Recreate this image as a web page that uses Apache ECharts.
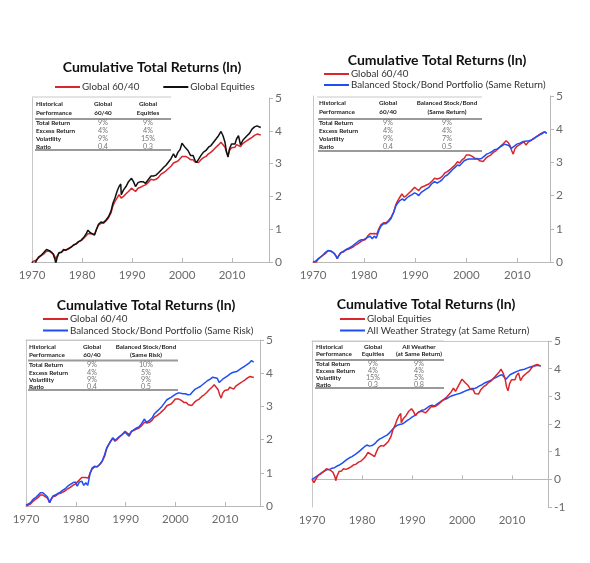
<!DOCTYPE html>
<html><head><meta charset="utf-8">
<script src="https://cdn.jsdelivr.net/npm/echarts@6/dist/echarts.min.js"></script>
<style>
html,body{margin:0;padding:0;background:#fff;}
#wrap{position:relative;width:590px;height:563px;}
.p{position:absolute;}
</style></head><body>
<div id="wrap">
<div id="c1" class="p" style="left:0;top:0;width:295px;height:282px"></div>
<div id="c2" class="p" style="left:295px;top:0;width:295px;height:282px"></div>
<div id="c3" class="p" style="left:0;top:282px;width:295px;height:281px"></div>
<div id="c4" class="p" style="left:295px;top:282px;width:295px;height:281px"></div>
</div>
<script>
// ---------------- DATA ----------------
const TITLE = 'Cumulative Total Returns (ln)';
const X_TICKS = [1970, 1980, 1990, 2000, 2010];

// Global Equities
const GE_YEARS = [1970.0,1970.4,1970.9,1971.3,1971.8,1972.3,1972.9,1973.3,1973.7,1974.2,1974.6,1974.75,1975.0,1975.4,1975.9,1976.3,1976.8,1977.3,1977.8,1978.3,1978.8,1979.3,1979.8,1980.2,1980.5,1980.9,1981.2,1981.6,1982.0,1982.5,1982.9,1983.3,1983.8,1984.3,1984.8,1985.3,1985.8,1986.2,1986.6,1987.0,1987.4,1987.75,1987.85,1988.3,1988.8,1989.3,1989.9,1990.3,1990.7,1991.2,1991.7,1992.2,1992.7,1993.2,1993.8,1994.3,1994.8,1995.3,1995.8,1996.3,1996.8,1997.3,1997.8,1998.3,1998.7,1999.2,1999.6,2000.0,2000.3,2000.7,2001.2,2001.7,2002.2,2002.6,2002.9,2003.3,2003.8,2004.3,2004.8,2005.3,2005.8,2006.3,2006.8,2007.3,2007.8,2008.2,2008.6,2008.9,2009.2,2009.5,2009.9,2010.3,2010.6,2010.9,2011.3,2011.7,2012.2,2012.6,2013.0,2013.5,2014.0,2014.5,2015.0,2015.4,2015.75];
const GE_VALUES = [0.00,-0.12,0.05,0.15,0.20,0.28,0.38,0.36,0.33,0.25,0.08,-0.05,0.12,0.28,0.30,0.38,0.36,0.40,0.45,0.52,0.55,0.62,0.66,0.68,0.78,0.88,0.97,0.90,0.88,0.82,1.00,1.15,1.22,1.20,1.28,1.38,1.55,1.80,1.95,2.15,2.30,2.38,2.05,2.20,2.30,2.45,2.55,2.45,2.30,2.42,2.45,2.45,2.40,2.50,2.62,2.62,2.65,2.72,2.80,2.88,2.95,3.05,3.15,3.30,3.18,3.35,3.42,3.62,3.60,3.48,3.40,3.25,3.25,3.10,3.03,3.08,3.25,3.35,3.40,3.50,3.55,3.65,3.75,3.85,3.98,3.85,3.65,3.35,3.20,3.45,3.60,3.65,3.60,3.75,3.85,3.57,3.72,3.75,3.85,3.92,4.05,4.12,4.15,4.18,4.10];

// Global 60/40
const G6040_YEARS = [1970.0,1970.4,1970.9,1971.4,1971.9,1972.4,1972.9,1973.4,1973.8,1974.3,1974.75,1975.0,1975.4,1975.9,1976.4,1976.9,1977.4,1977.9,1978.4,1978.9,1979.4,1979.9,1980.3,1980.7,1981.2,1981.6,1982.0,1982.5,1982.9,1983.3,1983.8,1984.3,1984.8,1985.3,1985.8,1986.2,1986.6,1987.0,1987.4,1987.75,1987.85,1988.3,1988.8,1989.3,1989.9,1990.3,1990.7,1991.2,1991.7,1992.2,1992.7,1993.2,1993.8,1994.3,1994.8,1995.3,1995.8,1996.3,1996.8,1997.3,1997.8,1998.3,1998.7,1999.2,1999.6,2000.0,2000.3,2000.7,2001.2,2001.7,2002.2,2002.6,2002.9,2003.3,2003.8,2004.3,2004.8,2005.3,2005.8,2006.3,2006.8,2007.3,2007.8,2008.2,2008.6,2008.9,2009.2,2009.5,2009.9,2010.3,2010.6,2010.9,2011.3,2011.7,2012.2,2012.6,2013.0,2013.5,2014.0,2014.5,2015.0,2015.4,2015.75];
const G6040_VALUES = [0.00,-0.05,0.06,0.14,0.20,0.25,0.33,0.33,0.30,0.24,0.10,0.18,0.28,0.30,0.36,0.38,0.42,0.46,0.52,0.56,0.62,0.66,0.68,0.78,0.86,0.85,0.86,0.84,1.00,1.12,1.18,1.18,1.25,1.35,1.50,1.72,1.85,1.95,2.05,2.08,1.95,2.00,2.08,2.15,2.25,2.20,2.15,2.25,2.28,2.32,2.35,2.42,2.52,2.50,2.52,2.58,2.68,2.72,2.78,2.85,2.92,3.02,2.98,3.08,3.12,3.22,3.25,3.22,3.18,3.12,3.12,3.05,3.00,3.03,3.12,3.18,3.22,3.30,3.35,3.42,3.50,3.57,3.65,3.60,3.50,3.35,3.25,3.40,3.48,3.52,3.50,3.58,3.62,3.52,3.62,3.65,3.70,3.75,3.80,3.86,3.90,3.92,3.87];

// Balanced Stock/Bond Portfolio (Same Return)
const BSR_YEARS = [1970.0,1970.5,1971.0,1971.5,1972.0,1972.5,1973.0,1973.5,1974.0,1974.5,1974.75,1975.0,1975.5,1976.0,1976.5,1977.0,1977.5,1978.0,1978.5,1979.0,1979.5,1980.0,1980.3,1980.7,1981.2,1981.6,1982.0,1982.4,1982.9,1983.3,1983.8,1984.3,1984.8,1985.3,1985.8,1986.2,1986.6,1987.0,1987.5,1987.9,1988.3,1988.8,1989.3,1989.9,1990.3,1990.7,1991.2,1991.7,1992.2,1992.7,1993.2,1993.8,1994.3,1994.8,1995.3,1995.8,1996.3,1996.8,1997.3,1997.8,1998.3,1998.7,1999.2,1999.6,2000.0,2000.5,2001.0,2001.5,2002.0,2002.5,2003.0,2003.5,2004.0,2004.5,2005.0,2005.5,2006.0,2006.5,2007.0,2007.5,2007.9,2008.4,2008.8,2009.1,2009.5,2009.9,2010.5,2011.0,2011.5,2011.8,2012.3,2012.8,2013.3,2013.8,2014.3,2014.8,2015.3,2015.75];
const BSR_VALUES = [0.00,0.02,0.10,0.15,0.22,0.30,0.35,0.33,0.28,0.18,0.10,0.18,0.28,0.33,0.38,0.42,0.46,0.52,0.58,0.64,0.67,0.68,0.62,0.74,0.78,0.70,0.78,0.72,0.95,1.08,1.15,1.15,1.22,1.32,1.50,1.68,1.78,1.85,1.90,1.85,1.92,1.98,2.02,2.08,2.05,2.00,2.10,2.15,2.20,2.25,2.35,2.42,2.38,2.42,2.48,2.58,2.62,2.70,2.78,2.85,2.92,2.90,2.98,3.05,3.08,3.10,3.10,3.10,3.10,3.10,3.12,3.18,3.25,3.28,3.32,3.38,3.40,3.45,3.50,3.55,3.53,3.50,3.42,3.38,3.50,3.55,3.58,3.62,3.64,3.58,3.65,3.68,3.72,3.78,3.82,3.86,3.92,3.88];

// Balanced Stock/Bond Portfolio (Same Risk)
const BSK_YEARS = [1970.0,1970.4,1970.9,1971.4,1971.9,1972.4,1972.9,1973.4,1973.8,1974.3,1974.75,1975.0,1975.4,1975.9,1976.4,1976.9,1977.4,1977.9,1978.4,1978.9,1979.4,1979.9,1980.3,1980.7,1981.2,1981.6,1982.0,1982.4,1982.9,1983.3,1983.8,1984.3,1984.8,1985.3,1985.8,1986.2,1986.6,1987.0,1987.5,1987.9,1988.3,1988.8,1989.3,1989.9,1990.3,1990.7,1991.2,1991.7,1992.2,1992.7,1993.2,1993.8,1994.2,1994.8,1995.3,1995.8,1996.3,1996.8,1997.3,1997.8,1998.3,1998.7,1999.2,1999.6,2000.0,2000.5,2001.0,2001.5,2002.0,2002.5,2003.0,2003.5,2004.0,2004.5,2005.0,2005.5,2006.0,2006.5,2007.0,2007.5,2007.9,2008.4,2008.8,2009.1,2009.5,2009.9,2010.5,2011.0,2011.5,2011.8,2012.3,2012.8,2013.3,2013.8,2014.3,2014.8,2015.3,2015.75];
const BSK_VALUES = [0.02,-0.02,0.10,0.20,0.25,0.32,0.40,0.40,0.36,0.28,0.10,0.20,0.30,0.33,0.38,0.42,0.48,0.52,0.60,0.65,0.70,0.72,0.60,0.72,0.75,0.62,0.70,0.62,1.00,1.15,1.20,1.18,1.25,1.35,1.55,1.75,1.85,1.95,2.05,1.98,2.02,2.10,2.15,2.22,2.18,2.10,2.25,2.30,2.35,2.38,2.48,2.62,2.52,2.58,2.65,2.78,2.85,2.92,3.00,3.10,3.20,3.18,3.28,3.32,3.36,3.40,3.40,3.38,3.38,3.35,3.36,3.45,3.52,3.56,3.60,3.66,3.72,3.78,3.82,3.88,3.88,3.85,3.72,3.70,3.82,3.88,3.92,3.98,4.02,3.98,4.05,4.10,4.15,4.20,4.25,4.30,4.38,4.33];

// All Weather Strategy (at Same Return)
const AW_YEARS = [1970.0,1970.5,1971.0,1971.5,1972.0,1972.5,1973.0,1973.5,1974.0,1974.5,1975.0,1975.5,1976.0,1976.5,1977.0,1977.5,1978.0,1978.5,1979.0,1979.5,1980.0,1980.5,1981.0,1981.5,1982.0,1982.5,1983.0,1983.5,1984.0,1984.5,1985.0,1985.5,1986.0,1986.5,1987.0,1987.5,1988.0,1988.5,1989.0,1989.5,1990.0,1990.5,1991.0,1991.5,1992.0,1992.5,1993.0,1993.5,1994.0,1994.5,1995.0,1995.5,1996.0,1996.5,1997.0,1997.5,1998.0,1998.5,1999.0,1999.5,2000.0,2000.5,2001.0,2001.5,2002.0,2002.5,2003.0,2003.5,2004.0,2004.5,2005.0,2005.5,2006.0,2006.5,2007.0,2007.5,2008.0,2008.4,2008.8,2009.2,2009.6,2010.0,2010.5,2011.0,2011.5,2012.0,2012.5,2013.0,2013.5,2014.0,2014.5,2015.0,2015.4,2015.75];
const AW_VALUES = [0.00,0.05,0.12,0.18,0.25,0.30,0.35,0.36,0.40,0.42,0.48,0.52,0.58,0.65,0.72,0.78,0.82,0.88,0.95,1.02,1.10,1.18,1.24,1.20,1.22,1.28,1.38,1.45,1.50,1.55,1.60,1.68,1.78,1.88,1.95,1.98,2.00,2.05,2.12,2.18,2.25,2.30,2.38,2.45,2.50,2.52,2.58,2.65,2.68,2.65,2.72,2.78,2.85,2.88,2.92,2.98,3.02,3.05,3.08,3.10,3.14,3.18,3.22,3.25,3.28,3.28,3.32,3.38,3.42,3.48,3.52,3.56,3.60,3.66,3.70,3.75,3.78,3.72,3.62,3.68,3.78,3.82,3.86,3.90,3.94,3.96,3.98,4.02,4.05,4.08,4.10,4.12,4.15,4.10];

// Tables
const ROW_LABELS = ['Total Return', 'Excess Return', 'Volatility', 'Ratio'];
const HEAD_LABELS = ['Historical', 'Performance'];
const T1_COLS = [['Global', '60/40'], ['Global', 'Equities']];
const T1_VALS = [['9%', '4%', '9%', '0.4'], ['9%', '4%', '15%', '0.3']];
const T2_COLS = [['Global', '60/40'], ['Balanced Stock/Bond', '(Same Return)']];
const T2_VALS = [['9%', '4%', '9%', '0.4'], ['9%', '4%', '7%', '0.5']];
const T3_COLS = [['Global', '60/40'], ['Balanced Stock/Bond', '(Same Risk)']];
const T3_VALS = [['9%', '4%', '9%', '0.4'], ['10%', '5%', '9%', '0.5']];
const T4_COLS = [['Global', 'Equities'], ['All Weather', '(at Same Return)']];
const T4_VALS = [['9%', '4%', '15%', '0.3'], ['9%', '4%', '5%', '0.8']];

// ---------------- STYLE / BUILD ----------------
const RED = '#d9262c', BLUE = '#1f4ef5', BLACK = '#111111';
const AXIS = '#b8b8b8', LABEL = '#6a6a6a';
const FONT = 'Lato, "Open Sans", sans-serif';
const LINE_ICON = 'path://M0,0L25,0L25,2L0,2Z';

function pairs(xs, ys) { return xs.map((x, i) => [x, ys[i]]); }

function tableGraphic(L, cols, vals) {
  const els = [];
  const T = (text, x, y, opt) => els.push({ type: 'text', z: 100, style: Object.assign({
    text, x, y, textVerticalAlign: 'middle', fontFamily: FONT, fontSize: 6.3, fontWeight: 'bold', fill: '#222' }, opt || {}) });
  const Ln = (x1, y1, x2, y2, w, c) => els.push({ type: 'line', z: 100, shape: { x1, y1, x2, y2 }, style: { stroke: c, lineWidth: w } });
  Ln(L.x0, L.top, L.x1, L.top, 1, '#c8c8c8');
  HEAD_LABELS.forEach((t, i) => T(t, L.lx, L.headY[i]));
  cols.forEach((c, j) => c.forEach((t, i) => T(t, L.colX[j], L.headY[i], { textAlign: 'center' })));
  Ln(L.lx - 1, L.headLine, L.x1, L.headLine, 1.8, '#9a9a9a');
  ROW_LABELS.forEach((t, i) => {
    T(t, L.lx, L.rowY[i]);
    vals.forEach((v, j) => T(v[i], L.colX[j], L.rowY[i], { textAlign: 'center', fontWeight: 'normal', fontSize: 7.2, fill: '#777' }));
  });
  Ln(L.lx - 1, L.bottomLine, L.x1, L.bottomLine, 1.8, '#9a9a9a');
  return els;
}

function makeChart(id, cfg) {
  const chart = echarts.init(document.getElementById(id), null, { renderer: 'canvas' });
  const xAxes = [{
    type: 'value', min: 1970, max: cfg.xMax, interval: 10, position: 'bottom',
    axisLine: { show: !cfg.zeroLine, onZero: false, lineStyle: { color: AXIS } },
    axisTick: { show: !cfg.zeroLine, inside: true, length: 4, customValues: X_TICKS, lineStyle: { color: AXIS } },
    axisLabel: { color: LABEL, fontSize: 11.5, fontFamily: FONT, margin: 7, customValues: X_TICKS,
      formatter: v => X_TICKS.includes(v) ? String(v) : '' },
    splitLine: { show: false }
  }];
  if (cfg.zeroLine) {
    xAxes.push({ type: 'value', min: 1970, max: cfg.xMax, interval: 10, position: 'bottom',
      axisLine: { show: true, onZero: true, onZeroAxisIndex: 0, lineStyle: { color: AXIS } },
      axisTick: { show: true, inside: true, length: 4, customValues: X_TICKS, lineStyle: { color: AXIS } },
      axisLabel: { show: false }, splitLine: { show: false } });
  }
  if (cfg.topLine) {
    xAxes.push({ type: 'value', min: 1970, max: cfg.xMax, position: 'top',
      axisLine: { show: true, onZero: false, lineStyle: { color: '#c8c8c8' } },
      axisTick: { show: false }, axisLabel: { show: false }, splitLine: { show: false } });
  }
  const option = {
    animation: false,
    title: { text: TITLE, left: cfg.titleX, top: cfg.titleY - 8, textAlign: 'center', padding: 0,
      textStyle: { fontFamily: FONT, fontWeight: 'bold', fontSize: 14, color: '#111' } },
    legend: Object.assign({ itemWidth: 25, itemHeight: 10, padding: 0, symbolKeepAspect: true,
      textStyle: { fontFamily: FONT, fontSize: 9.8, color: '#333', padding: [0, 0, 0, -3] },
      data: cfg.series.map(s => ({ name: s.name, icon: LINE_ICON, itemStyle: { color: s.color } })) }, cfg.legend),
    grid: cfg.grid,
    xAxis: xAxes,
    yAxis: [{
      type: 'value', position: 'right', min: cfg.yMin, max: 5, interval: 1,
      axisLine: { show: true, lineStyle: { color: AXIS } },
      axisTick: { show: true, length: 4, lineStyle: { color: AXIS } },
      axisLabel: { color: LABEL, fontSize: 12, fontFamily: FONT, margin: 6 },
      splitLine: { show: false }
    }, {
      type: 'value', position: 'left', min: cfg.yMin, max: 5,
      axisLine: { show: true, onZero: false, lineStyle: { color: '#c8c8c8' } },
      axisTick: { show: false }, axisLabel: { show: false }, splitLine: { show: false }
    }],
    series: cfg.series.map(s => ({
      type: 'line', name: s.name, data: s.data, symbol: 'none', showSymbol: false,
      lineStyle: { color: s.color, width: 1.5 }, itemStyle: { color: s.color }, z: s.z || 2
    })),
    graphic: tableGraphic(cfg.table, cfg.cols, cfg.vals)
  };
  chart.setOption(option);
}

makeChart('c1', {
  titleX: 152, titleY: 68,
  legend: { orient: 'horizontal', left: 55, top: 82, itemGap: 24 },
  grid: { left: 32, right: 26, top: 98, bottom: 20 },
  xMax: 2017.4, yMin: 0,
  series: [
    { name: 'Global 60/40', data: pairs(G6040_YEARS, G6040_VALUES), color: RED },
    { name: 'Global Equities', data: pairs(GE_YEARS, GE_VALUES), color: BLACK, z: 3 }
  ],
  table: { x0: 32, x1: 171, top: 97, lx: 36, headY: [104, 112.5], colX: [103, 148], headLine: 119, rowY: [123, 131, 139, 146.5], bottomLine: 150 },
  cols: T1_COLS, vals: T1_VALS
});

makeChart('c2', {
  titleX: 142, titleY: 61,
  legend: { orient: 'vertical', left: 29, top: 69, itemGap: 1 },
  grid: { left: 18, right: 40, top: 96, bottom: 20 },
  xMax: 2016.4, yMin: 0,
  series: [
    { name: 'Global 60/40', data: pairs(G6040_YEARS, G6040_VALUES), color: RED },
    { name: 'Balanced Stock/Bond Portfolio (Same Return)', data: pairs(BSR_YEARS, BSR_VALUES), color: BLUE, z: 3 }
  ],
  table: { x0: 22, x1: 187, top: 97, lx: 24, headY: [103, 112], colX: [93, 152], headLine: 119, rowY: [123, 131, 139, 146.5], bottomLine: 151 },
  cols: T2_COLS, vals: T2_VALS
});

makeChart('c3', {
  titleX: 146, titleY: 24,
  legend: { orient: 'vertical', left: 43, top: 32, itemGap: 1.5 },
  grid: { left: 26, right: 35, top: 58, bottom: 57 },
  xMax: 2017, yMin: 0, topLine: true,
  series: [
    { name: 'Global 60/40', data: pairs(G6040_YEARS, G6040_VALUES), color: RED },
    { name: 'Balanced Stock/Bond Portfolio (Same Risk)', data: pairs(BSK_YEARS, BSK_VALUES), color: BLUE, z: 3 }
  ],
  table: { x0: 26, x1: 178, top: 58, lx: 29, headY: [65, 73], colX: [92, 146], headLine: 78.5, rowY: [83, 90.5, 97.5, 104.5], bottomLine: 108 },
  cols: T3_COLS, vals: T3_VALS
});

makeChart('c4', {
  titleX: 131, titleY: 23,
  legend: { orient: 'vertical', left: 45, top: 32, itemGap: 1.5 },
  grid: { left: 17, right: 42, top: 59, bottom: 56 },
  xMax: 2017.2, yMin: -1, zeroLine: true, topLine: true,
  series: [
    { name: 'Global Equities', data: pairs(GE_YEARS, GE_VALUES), color: RED, z: 3 },
    { name: 'All Weather Strategy (at Same Return)', data: pairs(AW_YEARS, AW_VALUES), color: BLUE, z: 2 }
  ],
  table: { x0: 17, x1: 149, top: 59, lx: 21, headY: [65, 72], colX: [78, 124], headLine: 78, rowY: [81.5, 88.5, 95.5, 102.5], bottomLine: 106 },
  cols: T4_COLS, vals: T4_VALS
});
</script>
</body></html>
